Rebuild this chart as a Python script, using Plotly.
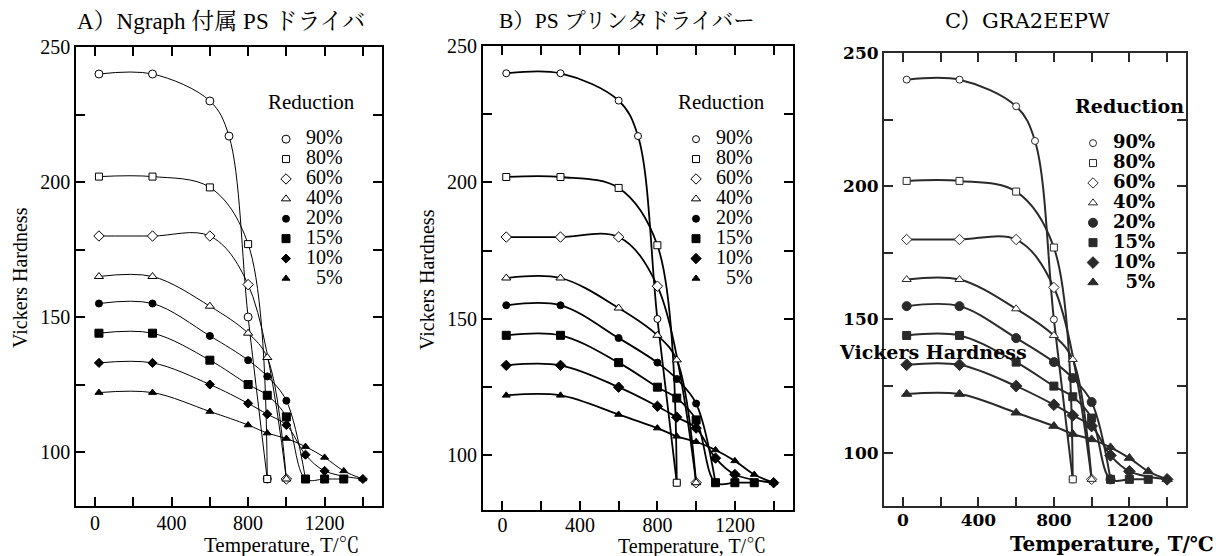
import plotly.graph_objects as go

W, H = 1221, 556

# ---------------- data ----------------
labels = ["90%", "80%", "60%", "40%", "20%", "15%", "10%", "5%"]

temp_90 = [20, 300, 600, 700, 800, 900]
hv_90 = [240, 240, 230, 217, 150, 90]
temp_80 = [20, 300, 600, 800, 900]
hv_80 = [202, 202, 198, 177, 90]
temp_60 = [20, 300, 600, 800, 1000]
hv_60 = [180, 180, 180, 162, 90]
temp_40 = [20, 300, 600, 800, 900, 1000]
hv_40 = [165, 165, 154, 144, 135, 90]
temp_20 = [20, 300, 600, 800, 900, 1000, 1100]
hv_20 = [155, 155, 143, 134, 128, 119, 90]
temp_15 = [20, 300, 600, 800, 900, 1000, 1100, 1200, 1300]
hv_15 = [144, 144, 134, 125, 121, 113, 90, 90, 90]
temp_10 = [20, 300, 600, 800, 900, 1000, 1100, 1200, 1400]
hv_10 = [133, 133, 125, 118, 114, 110, 99, 93, 90]
temp_5 = [20, 300, 600, 800, 900, 1000, 1100, 1200, 1300, 1400]
hv_5 = [122, 122, 115, 110, 107, 105, 102, 98, 93, 90]

temps = [temp_90, temp_80, temp_60, temp_40, temp_20, temp_15, temp_10, temp_5]
hvs = [hv_90, hv_80, hv_60, hv_40, hv_20, hv_15, hv_10, hv_5]

x_tickvals = [0, 200, 400, 600, 800, 1000, 1200, 1400]
x_ticktext = ["0", "", "400", "", "800", "", "1200", ""]
y_tickvals = [100, 125, 150, 175, 200, 225, 250]
y_ticktext = ["100", "", "150", "", "200", "", "250"]

panel_titles = ["A）Ngraph 付属 PS ドライバ", "B）PS プリンタドライバー", "C）GRA2EEPW"]
x_title = "Temperature, T/℃"
y_title = "Vickers Hardness"
legend_title = "Reduction"

# ---------------- styling ----------------
symbols = ["circle", "square", "diamond", "triangle-up",
           "circle", "square", "diamond", "triangle-up"]
filled = [False, False, False, False, True, True, True, True]

SERIF = "'Liberation Serif', 'Noto Serif CJK JP', 'Noto Sans CJK JP', serif"
DVSERIF = "'DejaVu Serif', 'Noto Sans CJK JP', serif"


def px_x(p):
    return p / W


def px_y(p):
    return 1 - p / H


panels = [
    dict(xd=(76, 382), yd=(47, 506), color="black", lw=1.0, frame=1.5,
         sizes=[8, 7, 8, 8, 7, 8, 7, 7], font=SERIF, weight="normal", tick=20,
         leg_x=266, leg_y=93, legfont=20, legtitle=21, standoff=-2),
    dict(xd=(483, 793), yd=(46, 510), color="black", lw=1.8, frame=2.0,
         sizes=[7, 7, 8, 8, 7, 8, 8, 7], font=SERIF, weight="normal", tick=20,
         leg_x=676, leg_y=93, legfont=20, legtitle=21, standoff=-4),
    dict(xd=(884, 1186), yd=(53, 506), color="#2a2a2a", lw=2.0, frame=2.0,
         sizes=[7, 7, 8, 8, 9, 8, 9, 9], font=DVSERIF, weight="bold", tick=17,
         leg_x=1073, leg_y=97, legfont=18, legtitle=19, standoff=-2),
]

fig = go.Figure()

for pi, P in enumerate(panels):
    sfx = "" if pi == 0 else str(pi + 1)
    legname = "legend" + sfx
    for si in range(len(labels)):
        txt = labels[si]
        if txt == "5%":
            txt = "\u00a0\u00a0" + txt
        name = '<span style="font-size:%dpx">%s</span>' % (P["legfont"], txt)
        mk = dict(symbol=symbols[si], size=P["sizes"][si],
                  color=P["color"] if filled[si] else "white",
                  line=dict(color=P["color"], width=1.0))
        # smooth curve (no legend entry)
        fig.add_trace(go.Scatter(
            x=temps[si], y=hvs[si], mode="lines", showlegend=False,
            line=dict(color=P["color"], width=P["lw"], shape="spline", smoothing=1.0),
            xaxis="x" + sfx, yaxis="y" + sfx, hoverinfo="skip",
        ))
        # measured points (legend shows the symbol only)
        fig.add_trace(go.Scatter(
            x=temps[si], y=hvs[si], mode="markers", name=name, marker=mk,
            xaxis="x" + sfx, yaxis="y" + sfx, legend=legname,
        ))

    axis_common = dict(
        showline=True, linecolor=P["color"], linewidth=P["frame"], mirror="ticks",
        ticks="inside", ticklen=9, tickwidth=P["frame"], tickcolor=P["color"],
        showgrid=False, zeroline=False, automargin=False,
        tickfont=dict(family=P["font"], size=P["tick"], color="black", weight=P["weight"]),
    )
    fig.update_layout(**{
        "xaxis" + sfx: dict(
            domain=[px_x(P["xd"][0]), px_x(P["xd"][1])],
            range=[-100, 1500], tickmode="array",
            tickvals=x_tickvals, ticktext=x_ticktext, ticklabelstandoff=P["standoff"],
            anchor="y" + sfx, **axis_common),
        "yaxis" + sfx: dict(
            domain=[px_y(P["yd"][1]), px_y(P["yd"][0])],
            range=[80, 250], tickmode="array",
            tickvals=y_tickvals, ticktext=y_ticktext,
            anchor="x" + sfx, **axis_common),
        legname: dict(
            x=px_x(P["leg_x"]), y=px_y(P["leg_y"]), xanchor="left", yanchor="top",
            xref="paper", yref="paper",
            bgcolor="rgba(0,0,0,0)", borderwidth=0,
            font=dict(family=P["font"], size=13, color="black", weight=P["weight"]),
            title=dict(text='<span style="font-size:%dpx">%s</span><br>\u00a0'
                            % (P["legtitle"], legend_title),
                       font=dict(family=P["font"], size=12, color="black",
                                 weight=P["weight"])),
            tracegroupgap=0, itemclick=False,
        ),
    })

annotations = []


def ann(text, x, y, size, family, weight="normal", angle=0):
    annotations.append(dict(
        text=text, x=px_x(x), y=px_y(y), xref="paper", yref="paper",
        xanchor="center", yanchor="middle", showarrow=False, textangle=angle,
        font=dict(family=family, size=size, color="black", weight=weight)))


# panel titles
ann(panel_titles[0], 221, 22, 23, SERIF)
ann(panel_titles[1], 627, 21, 21.5, SERIF)
ann(panel_titles[2], 1027, 21, 21, DVSERIF)
# x-axis titles
ann(x_title, 282, 545, 21, SERIF)
ann(x_title, 692, 546, 20, SERIF)
ann(x_title, 1112, 544, 20, DVSERIF, "bold")
# y-axis titles
ann(y_title, 20, 278, 20, SERIF, angle=-90)
ann(y_title, 427, 280, 20, SERIF, angle=-90)
ann(y_title, 933, 352, 19, DVSERIF, "bold")

fig.update_layout(
    width=W, height=H,
    margin=dict(l=0, r=0, t=0, b=0, autoexpand=False),
    paper_bgcolor="white", plot_bgcolor="white",
    showlegend=True,
    annotations=annotations,
)

fig.write_html("out.html", config={"displayModeBar": False},
               post_script="document.body.style.margin='0';")
